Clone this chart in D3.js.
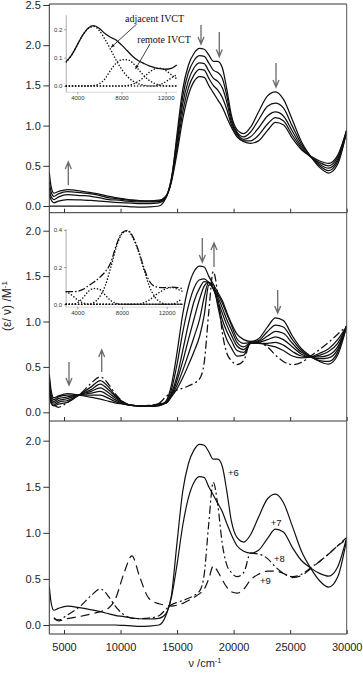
<!DOCTYPE html>
<html><head><meta charset="utf-8">
<script src="https://cdn.jsdelivr.net/npm/d3@7"></script>
<style>body{margin:0;background:#fff} svg{display:block}</style>
</head><body>
<svg id="c" width="363" height="676"></svg>
<script>
// ---------- DATA ----------
const wn = [3700,3850,4100,4500,5300,6500,7400,8200,9000,9500,10300,11000,11700,12500,13400,14000,14500,15000,15500,16000,16500,17000,17400,17800,18200,18600,19000,19400,19800,20300,20900,21500,22200,23000,23700,24400,25200,26000,26800,27600,28400,29200,30000];
const ox6 = [0,0,0,0,0,0,0,0,0,0,-0.005,-0.01,-0.015,-0.012,0.0,0.1,0.32,0.9,1.45,1.75,1.9,1.96,1.95,1.88,1.8,1.8,1.72,1.45,1.13,0.95,0.9,0.98,1.17,1.37,1.42,1.33,1.07,0.8,0.62,0.48,0.41,0.52,0.93];
const ox7 = [0.42,0.25,0.16,0.18,0.205,0.185,0.165,0.145,0.12,0.105,0.09,0.075,0.068,0.065,0.072,0.12,0.3,0.66,1.08,1.38,1.55,1.61,1.6,1.5,1.41,1.32,1.23,1.1,0.98,0.86,0.8,0.78,0.81,0.94,1.04,1.01,0.84,0.7,0.62,0.56,0.53,0.63,0.95];
const ox8 = [null,null,0.08,0.055,0.11,0.21,0.32,0.39,0.3,0.21,0.11,0.075,0.07,0.075,0.1,0.17,0.22,0.245,0.265,0.29,0.32,0.37,0.55,1.1,1.55,1.3,0.88,0.65,0.57,0.525,0.57,0.78,0.77,0.72,0.63,0.56,0.525,0.55,0.62,0.69,0.77,0.86,0.95];
const ox9 = [null,null,0.07,0.045,0.07,0.095,0.12,0.145,0.19,0.27,0.56,0.75,0.52,0.29,0.23,0.215,0.205,0.215,0.235,0.265,0.3,0.34,0.39,0.5,0.64,0.58,0.49,0.41,0.36,0.345,0.39,0.49,0.55,0.585,0.585,0.56,0.515,0.535,0.61,0.69,0.77,0.86,0.93];
// panel 1 intermediate spectra (+6 -> +7)
const p1a = [0.15,0.08,0.04,0.06,0.08,0.075,0.07,0.06,0.05,0.045,0.04,0.035,0.03,0.03,0.04,0.1,0.35,0.84,1.36,1.66,1.81,1.87,1.86,1.78,1.69,1.66,1.59,1.37,1.09,0.92,0.86,0.92,1.07,1.24,1.28,1.22,0.99,0.77,0.62,0.5,0.44,0.55,0.93];
const p1b = [0.22,0.12,0.08,0.11,0.14,0.13,0.12,0.1,0.08,0.075,0.065,0.055,0.05,0.05,0.055,0.11,0.33,0.78,1.27,1.56,1.72,1.78,1.77,1.68,1.59,1.55,1.47,1.29,1.05,0.9,0.83,0.86,0.97,1.12,1.17,1.12,0.93,0.74,0.62,0.52,0.47,0.58,0.94];
const p1c = [0.3,0.18,0.12,0.15,0.18,0.165,0.15,0.13,0.1,0.095,0.08,0.07,0.065,0.06,0.065,0.115,0.31,0.72,1.17,1.47,1.63,1.7,1.69,1.59,1.5,1.44,1.35,1.2,1.01,0.88,0.81,0.81,0.88,1.02,1.1,1.06,0.88,0.72,0.61,0.54,0.5,0.61,0.94];
// panel 2 intermediate spectra (+7 -> +8)
const p2a = [0.38,0.2,0.14,0.17,0.19,0.19,0.19,0.19,0.15,0.12,0.09,0.075,0.07,0.065,0.075,0.11,0.25,0.53,0.88,1.17,1.37,1.46,1.47,1.43,1.37,1.3,1.2,1.08,0.96,0.81,0.76,0.77,0.79,0.89,0.96,0.94,0.8,0.68,0.61,0.57,0.56,0.66,0.95];
const p2b = [0.34,0.17,0.12,0.15,0.17,0.195,0.21,0.23,0.18,0.14,0.095,0.075,0.07,0.07,0.08,0.1,0.21,0.4,0.68,0.97,1.22,1.37,1.44,1.43,1.36,1.27,1.15,1.02,0.91,0.77,0.72,0.77,0.78,0.84,0.89,0.87,0.76,0.66,0.61,0.59,0.6,0.69,0.95];
const p2c = [0.3,0.14,0.1,0.13,0.15,0.2,0.23,0.27,0.21,0.16,0.1,0.075,0.07,0.07,0.085,0.1,0.19,0.35,0.56,0.8,1.03,1.25,1.39,1.43,1.36,1.23,1.09,0.96,0.85,0.73,0.69,0.76,0.77,0.8,0.83,0.8,0.72,0.64,0.61,0.61,0.63,0.72,0.95];
const p2d = [0.26,0.12,0.08,0.11,0.13,0.2,0.25,0.31,0.24,0.18,0.105,0.075,0.07,0.07,0.09,0.1,0.18,0.3,0.46,0.64,0.83,1.03,1.27,1.43,1.37,1.2,1.02,0.89,0.79,0.68,0.66,0.76,0.76,0.76,0.77,0.74,0.67,0.62,0.61,0.63,0.67,0.76,0.95];
const p2e = [0.22,0.1,0.07,0.09,0.11,0.205,0.28,0.35,0.27,0.19,0.11,0.075,0.07,0.07,0.095,0.1,0.17,0.26,0.38,0.52,0.67,0.84,1.07,1.4,1.41,1.17,0.95,0.8,0.71,0.62,0.63,0.76,0.76,0.74,0.72,0.68,0.62,0.6,0.61,0.65,0.7,0.8,0.95];
// inset 1 (fit of panel 1 NIR band)
const in1X = [3000,3500,4000,4500,5000,5500,6000,6500,7000,7500,8000,8500,9000,9500,10000,10500,11000,11500,12000,12500,13000];
const in1Total = [0.086,0.11,0.145,0.18,0.205,0.213,0.203,0.185,0.172,0.162,0.145,0.125,0.105,0.09,0.08,0.071,0.065,0.061,0.059,0.062,0.074];
const in1Adjacent = [0.085,0.11,0.145,0.18,0.203,0.21,0.195,0.165,0.13,0.092,0.06,0.035,0.018,0.008,0.003,0,0,0,0,0,0];
const in1Remote = [0,0,0,0,0,0.002,0.008,0.025,0.055,0.08,0.092,0.093,0.082,0.06,0.038,0.02,0.009,0.003,0,0,0];
const in1Band3 = [0,0,0,0,0,0,0,0,0,0,0,0.002,0.006,0.016,0.03,0.048,0.06,0.063,0.055,0.04,0.025];
const in1Band4 = [0,0,0,0,0,0,0,0,0,0,0,0,0,0,0,0,0,0.005,0.015,0.028,0.04];
// inset 2 (fit of panel 2 NIR band)
const in2X = [3000,3500,4000,4500,5000,5500,6000,6500,7000,7500,8000,8500,9000,9500,10000,10500,11000,11500,12000,12500,13000,13400];
const in2Total = [0.068,0.068,0.07,0.08,0.1,0.12,0.145,0.175,0.225,0.32,0.385,0.398,0.36,0.285,0.19,0.12,0.095,0.09,0.09,0.092,0.09,0.085];
const in2Band1 = [0.068,0.05,0.025,0.008,0,0,0,0,0,0,0,0,0,0,0,0,0,0,0,0,0,0];
const in2Band2 = [0,0,0.008,0.035,0.07,0.085,0.08,0.05,0.02,0.005,0,0,0,0,0,0,0,0,0,0,0,0];
const in2Band3 = [0,0,0,0,0,0.01,0.04,0.1,0.2,0.31,0.38,0.395,0.355,0.28,0.18,0.09,0.035,0.01,0,0,0,0];
const in2Band4 = [0,0,0,0,0,0,0,0,0,0,0,0,0,0,0.01,0.025,0.05,0.07,0.085,0.09,0.08,0.07];
const in2Band5 = [0,0,0,0,0,0,0,0,0,0,0,0,0,0,0,0,0,0,0,0,0.015,0.03];
// ticks / labels
const xTicks = [5000,10000,15000,20000,25000,30000];
const yTicks1 = [0,0.5,1.0,1.5,2.0,2.5];
const yTicks2 = [0,0.5,1.0,1.5,2.0];
const yTicks3 = [0,0.5,1.0,1.5,2.0];
const inXTicks = [4000,8000,12000];
const in1YTicks = [0,0.1,0.2];
const in2YTicks = [0,0.2,0.4];
const oxLabels = ["+6","+7","+8","+9"];

// ---------- DRAW ----------
const svg = d3.select('#c');
const L = 49.3, R = 346.7;
const FONT = "'Liberation Sans', Arial, sans-serif";
const x = d3.scaleLinear().domain([5000,30000]).range([64,346.7]);
const panels = [
  {top:4, bottom:212.7, y:d3.scaleLinear().domain([0,2.5]).range([206,5]), ticks:yTicks1},
  {top:212.7, bottom:421, y:d3.scaleLinear().domain([0,2]).range([412.3,230.7]), ticks:yTicks2},
  {top:421, bottom:634, y:d3.scaleLinear().domain([0,2]).range([625,440.7]), ticks:yTicks3}
];
const defs = svg.append('defs');
panels.forEach((p,i)=>{
  defs.append('clipPath').attr('id','clip'+i).append('rect')
    .attr('x',L).attr('y',p.top).attr('width',R-L).attr('height',p.bottom-p.top);
});
function path(xs, ys, xs_, ys_){
  return d3.line().defined((d,i)=>ys[i]!=null)
    .x((d,i)=>xs_(xs[i])).y((d,i)=>ys_(ys[i])).curve(d3.curveMonotoneX)(xs);
}
function drawCurve(g, xs, ys, xsc, ysc, dash, w){
  g.append('path').attr('d',path(xs,ys,xsc,ysc)).attr('fill','none')
   .attr('stroke','#111').attr('stroke-width',w||1.3)
   .attr('stroke-dasharray',dash||null).attr('stroke-linejoin','round');
}
const DASHDOT = '8,3,2,3', DASHED = '9,5';

const series = [
  [[ox6,null],[p1a,null],[p1b,null],[p1c,null],[ox7,null]],
  [[ox7,null],[p2a,null],[p2b,null],[p2c,null],[p2d,null],[p2e,null],[ox8,DASHDOT]],
  [[ox6,null],[ox7,null],[ox8,DASHDOT],[ox9,DASHED]]
];
panels.forEach((p,i)=>{
  const g = svg.append('g').attr('clip-path','url(#clip'+i+')');
  series[i].forEach(s=>drawCurve(g, wn, s[0], x, p.y, s[1], i==2?1.2:1.25));
  const ay = svg.append('g').attr('transform','translate('+L+',0)')
    .call(d3.axisLeft(p.y).tickValues(p.ticks).tickSize(6).tickPadding(2.5).tickFormat(d3.format('.1f')));
  ay.select('.domain').remove();
  ay.selectAll('line').attr('stroke','#333');
  ay.selectAll('text').attr('font-family',FONT).attr('font-size',11).attr('fill','#222');
  const ax = svg.append('g').attr('transform','translate(0,'+p.bottom+')')
    .call(d3.axisBottom(x).tickValues(xTicks).tickSize(-4).tickPadding(9).tickFormat(i==2?d3.format('d'):''));
  ax.select('.domain').remove();
  ax.selectAll('line').attr('stroke','#333');
  ax.selectAll('text').attr('font-family',FONT).attr('font-size',11).attr('fill','#222');
  svg.append('line').attr('x1',L).attr('x2',R).attr('y1',p.bottom).attr('y2',p.bottom).attr('stroke','#333');
});
svg.append('line').attr('x1',L).attr('x2',R).attr('y1',4).attr('y2',4).attr('stroke','#333');
svg.append('line').attr('x1',L).attr('x2',L).attr('y1',4).attr('y2',634).attr('stroke','#333');
svg.append('line').attr('x1',R).attr('x2',R).attr('y1',4).attr('y2',634).attr('stroke','#555');

// axis titles
const xt = svg.append('text').attr('x',205).attr('y',667).attr('text-anchor','middle')
  .attr('font-family',FONT).attr('font-size',11).attr('fill','#222');
xt.append('tspan').text('ν /cm');
xt.append('tspan').attr('dy',-4).attr('font-size',7.5).text('-1');
const yt = svg.append('text').attr('transform','translate(11,306) rotate(-90)').attr('text-anchor','middle')
  .attr('font-family',FONT).attr('font-size',12).attr('fill','#222');
yt.append('tspan').text('(ε/ ν)  /M');
yt.append('tspan').attr('dy',-4.5).attr('font-size',8).text('-1');

// oxidation state labels panel 3
const labPos = [[228,475.5],[270.7,526],[274,561.5],[260,584]];
oxLabels.forEach((t,i)=>svg.append('text').attr('x',labPos[i][0]).attr('y',labPos[i][1])
  .attr('font-family',FONT).attr('font-size',9.5).attr('fill','#111').text(t));

// big gray arrows
function bigArrow(ax, y1, y2){
  const dir = y2>y1?1:-1;
  svg.append('path').attr('d',`M${ax},${y1}L${ax},${y2}M${ax-3},${y2-dir*7}L${ax},${y2}L${ax+3},${y2-dir*7}`)
    .attr('fill','none').attr('stroke','#6a6a6a').attr('stroke-width',1.3);
}
[[201,25,44],[219.3,32,56.5],[276,63,87],[68.3,185,162],
 [69,362,385],[101.7,372,350],[202.3,238,262],[214,267,243],[277.7,290,313]].forEach(a=>bigArrow(a[0],a[1],a[2]));

// insets
function inset(cfg){
  const g = svg.append('g');
  const ix = d3.scaleLinear().domain([4000,12000]).range(cfg.xr);
  const iy = d3.scaleLinear().domain([0,cfg.ymax]).range(cfg.yr);
  const x0 = ix(3000), xEnd = ix(cfg.xend), yTop = iy(cfg.ytop), yBot = iy(cfg.ybot);
  g.append('line').attr('x1',x0).attr('x2',x0).attr('y1',yTop).attr('y2',yBot).attr('stroke','#999').attr('stroke-width',0.8);
  g.append('line').attr('x1',x0).attr('x2',xEnd).attr('y1',yBot).attr('y2',yBot).attr('stroke','#ccc').attr('stroke-width',0.8);
  const ay = g.append('g').attr('transform','translate('+x0+',0)')
    .call(d3.axisLeft(iy).tickValues(cfg.yticks).tickSize(2).tickPadding(2).tickFormat(d3.format('.1f')));
  ay.select('.domain').remove();
  const ax = g.append('g').attr('transform','translate(0,'+yBot+')')
    .call(d3.axisBottom(ix).tickValues(inXTicks).tickSize(2).tickPadding(1.5).tickFormat(d3.format('d')));
  ax.select('.domain').remove();
  g.selectAll('.tick line').attr('stroke','#999');
  g.selectAll('.tick text').attr('font-family',FONT).attr('font-size',6).attr('fill','#333');
  cfg.bands.forEach(b=>{
    g.append('path').attr('d',path(cfg.xs,b,ix,iy)).attr('fill','none').attr('stroke','#111')
     .attr('stroke-width',1.5).attr('stroke-linecap','round').attr('stroke-dasharray','0.1,3');
  });
  drawCurve(g, cfg.xs, cfg.total, ix, iy, cfg.dash, 1.3);
}
inset({xr:[77.3,165.7], yr:[86,29.3], ymax:0.2, ytop:0.25, ybot:-0.022, xend:13000, yticks:in1YTicks,
  xs:in1X, total:in1Total, bands:[in1Adjacent,in1Remote,in1Band3,in1Band4], dash:null});
inset({xr:[77.3,166.7], yr:[304.3,230], ymax:0.4, ytop:0.405, ybot:-0.015, xend:13400, yticks:in2YTicks,
  xs:in2X, total:in2Total, bands:[in2Band1,in2Band2,in2Band3,in2Band4,in2Band5], dash:'7,2,1.5,2'});

// inset annotations
const SERIF = "'Liberation Serif','Times New Roman',serif";
svg.append('text').attr('x',125).attr('y',21.5).attr('font-family',SERIF).attr('font-size',10).attr('fill','#111').text('adjacent IVCT');
svg.append('text').attr('x',137.3).attr('y',42.5).attr('font-family',SERIF).attr('font-size',10).attr('fill','#111').text('remote IVCT');
function smallArrow(x1,y1,x2,y2){
  const a = Math.atan2(y2-y1,x2-x1), h=4, w=0.4;
  svg.append('line').attr('x1',x1).attr('y1',y1).attr('x2',x2).attr('y2',y2).attr('stroke','#111').attr('stroke-width',0.8);
  svg.append('path').attr('d',`M${x2},${y2}L${x2-h*Math.cos(a-w)},${y2-h*Math.sin(a-w)}L${x2-h*Math.cos(a+w)},${y2-h*Math.sin(a+w)}Z`).attr('fill','#111');
}
smallArrow(136.7,24,111,47.5);
smallArrow(150,44,135.5,69);
</script>
</body></html>
